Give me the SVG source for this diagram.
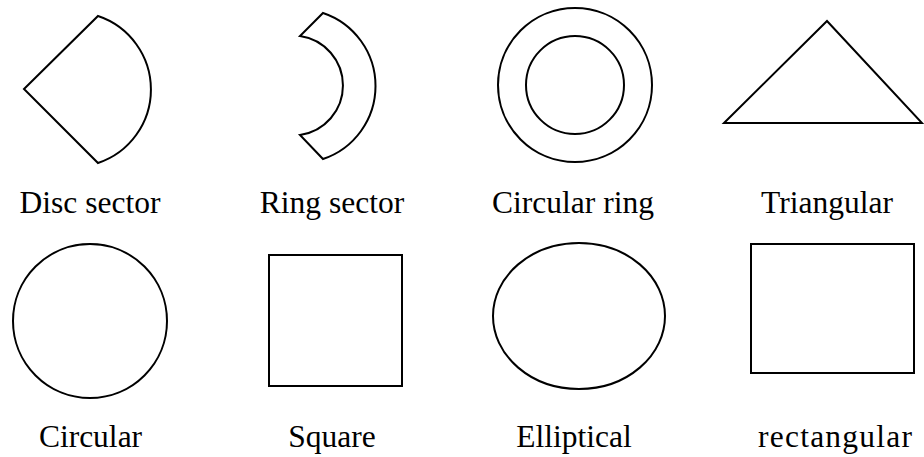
<svg xmlns="http://www.w3.org/2000/svg" width="924" height="457" viewBox="0 0 924 457">
<style>
.s{fill:none;stroke:#000;stroke-width:2;stroke-linejoin:miter}
text{font-family:'Liberation Serif','Times New Roman',serif;font-size:31.5px;fill:#000;text-anchor:middle}
</style>
<rect width="924" height="457" fill="#fff"/>
<g id="disc-sector">
<path class="s" d="M24,89 L98,16 A77.5,77.5 0 0 1 98,163 Z"/>
<text x="90" y="213">Disc sector</text>
</g>
<g id="ring-sector">
<path class="s" d="M323,13 A77,77 0 0 1 323,159 L300,135 A50,50 0 0 0 300,36 Z"/>
<text x="332" y="213">Ring sector</text>
</g>
<g id="circular-ring">
<circle class="s" cx="575" cy="85" r="77"/>
<circle class="s" cx="575" cy="85" r="49"/>
<text x="573" y="213">Circular ring</text>
</g>
<g id="triangular">
<path class="s" d="M724,123 L827,21 L922,123 Z"/>
<text x="827" y="213">Triangular</text>
</g>
<g id="circular">
<circle class="s" cx="90" cy="321" r="77"/>
<text x="90.5" y="447">Circular</text>
</g>
<g id="square">
<rect class="s" x="269" y="255" width="133" height="131"/>
<text x="332" y="447">Square</text>
</g>
<g id="elliptical">
<ellipse class="s" cx="579" cy="316" rx="86" ry="73"/>
<text x="574" y="447">Elliptical</text>
</g>
<g id="rectangular">
<rect class="s" x="751" y="244" width="163" height="129"/>
<text x="835" y="447" textLength="154" lengthAdjust="spacing">rectangular</text>
</g>
<g id="connectors"></g>
</svg>
